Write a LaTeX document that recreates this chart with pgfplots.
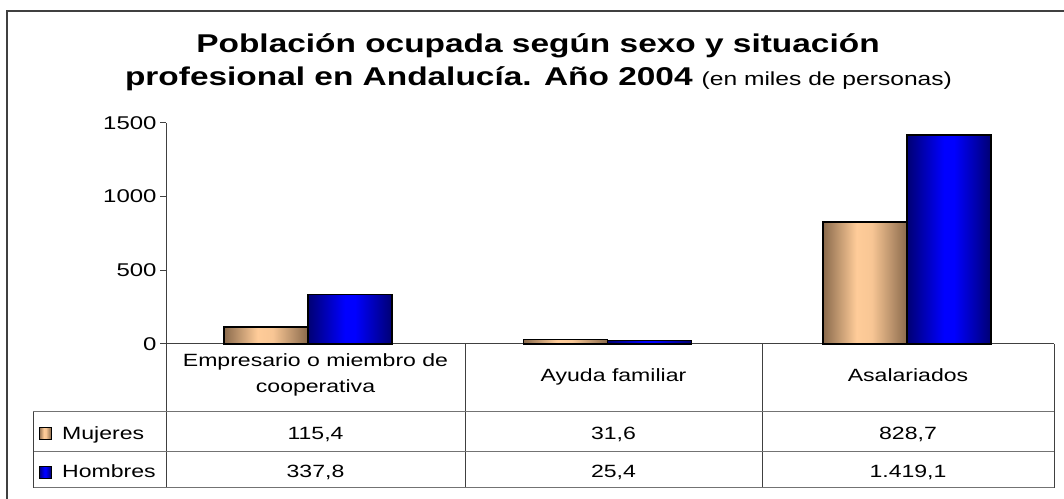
\documentclass[border=0pt]{standalone}
\usepackage{fontspec}
\setmainfont{Liberation Sans}[FakeStretch=1.3]
\usepackage{pgfplots}
\pgfplotsset{compat=1.18}
\definecolor{peach}{RGB}{255,204,153}
\definecolor{peachdk}{RGB}{138,106,76}
\definecolor{blueb}{RGB}{0,0,255}
\definecolor{bluedk}{RGB}{0,0,115}
\definecolor{lineg}{RGB}{64,64,64}
% cylinder-like shading of the Excel bars: dark edges, light centre
% (tikz maps the shaded path onto the 25bp..75bp part of the shading)
\pgfdeclarehorizontalshading{peachbar}{100bp}{color(0bp)=(peachdk); color(25bp)=(peachdk); color(45bp)=(peach); color(54bp)=(peach!94!peachdk); color(75bp)=(peachdk); color(100bp)=(peachdk)}
\pgfdeclarehorizontalshading{bluebar}{100bp}{color(0bp)=(bluedk); color(25bp)=(bluedk); color(47bp)=(blueb); color(53bp)=(blueb); color(75bp)=(bluedk); color(100bp)=(bluedk)}
% one \addplot per bar, so that each bar gets its own shading
\pgfplotsset{
  muj/.style={ybar, bar shift=-42bp, shading=peachbar, draw=black, line width=1.3bp},
  hom/.style={ybar, bar shift=42bp, shading=bluebar, draw=black, line width=1.3bp},
}

\begin{document}
\begin{tikzpicture}[x=1bp,y=1bp]
\path[use as bounding box] (0,0) rectangle (1064,499);
% chart frame (right and bottom edges fall outside the picture)
\draw[lineg, line width=1.5bp] (7,0) -- (7,488) -- (1064,488);

% title
\node[anchor=base, inner sep=0, font=\bfseries\fontsize{25.8}{30}\selectfont] at (538,446)
  {Población ocupada según sexo y situación};
\node[anchor=base, inner sep=0] at (538.5,413)
  {{\bfseries\fontsize{25.8}{30}\selectfont profesional en Andalucía. Año 2004}\hspace{9bp}%
   {\fontsize{19}{22}\selectfont (en miles de personas)}};

\begin{axis}[
  at={(166bp,155bp)}, anchor=south west,
  scale only axis, width=888bp, height=221bp,
  xmin=-0.474, xmax=2.491, ymin=0, ymax=1500,
  axis x line*=bottom, axis y line*=left,
  axis line style={lineg, line width=1bp},
  xtick=\empty, ytick={0,500,1000,1500},
  tick align=outside, major tick length=6bp,
  tick style={lineg, line width=1bp},
  yticklabel style={font=\fontsize{18.5}{22}\selectfont,
    /pgf/number format/1000 sep={}, /pgf/number format/assume math mode=true},
  ybar, bar width=84bp,
  clip=false,
]
% Mujeres
\addplot[muj] coordinates {(0,115.4)};
\addplot[muj] coordinates {(1,31.6)};
\addplot[muj] coordinates {(2,828.7)};
% Hombres
\addplot[hom] coordinates {(0,337.8)};
\addplot[hom] coordinates {(1,25.4)};
\addplot[hom] coordinates {(2,1419.1)};
\end{axis}

% data table below the axis
\draw[lineg, line width=1bp] (166,155) -- (166,11);
\draw[lineg, line width=1bp] (465,155) -- (465,11);
\draw[lineg, line width=1bp] (762,155) -- (762,11);
\draw[lineg, line width=1bp] (1054,155) -- (1054,11);
\draw[black!55, line width=1bp] (33,87) -- (1054,87);
\draw[black!55, line width=1bp] (33,47) -- (1054,47);
\draw[black!55, line width=1bp] (33,11) -- (1054,11);
\draw[lineg, line width=1bp] (33,87) -- (33,11);

\begin{scope}[every node/.style={inner sep=0, font=\fontsize{17.8}{21}\selectfont}]
\node[anchor=base] at (315.5,132) {Empresario o miembro de};
\node[anchor=base] at (315.5,106) {cooperativa};
\node[anchor=base] at (613.5,117) {Ayuda familiar};
\node[anchor=base] at (908,117) {Asalariados};

\shade[shading=peachbar, draw=black, line width=1bp] (39,59) rectangle (51,71);
\shade[shading=bluebar, draw=black, line width=1bp] (39,20) rectangle (51,32);
\node[anchor=base west] at (62,59) {Mujeres};
\node[anchor=base west] at (62,21) {Hombres};

\node[anchor=base] at (315.5,59) {115,4};
\node[anchor=base] at (613.5,59) {31,6};
\node[anchor=base] at (908,59) {828,7};
\node[anchor=base] at (315.5,21) {337,8};
\node[anchor=base] at (613.5,21) {25,4};
\node[anchor=base] at (908,21) {1.419,1};
\end{scope}
\end{tikzpicture}
\end{document}
